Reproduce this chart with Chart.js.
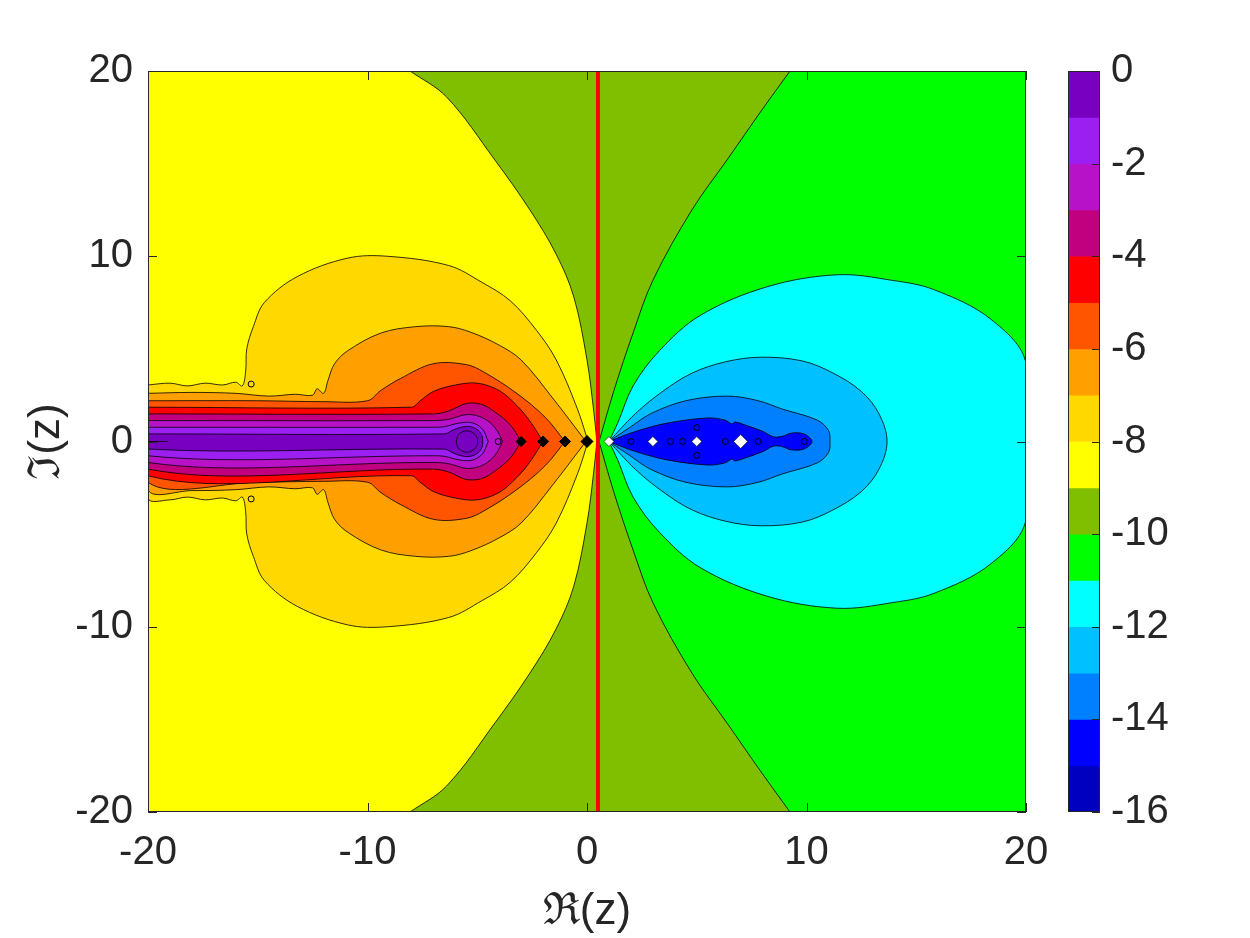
<!DOCTYPE html>
<html>
<head>
<meta charset="utf-8">
<script src="https://cdn.jsdelivr.net/npm/chart.js@4.4.1/dist/chart.umd.min.js"></script>
<style>
  html, body { margin: 0; padding: 0; background: #fff; }
  #wrap { position: relative; width: 1250px; height: 938px; }
  canvas { position: absolute; left: 0; top: 0; }
</style>
</head>
<body>
<div id="wrap">
  <canvas id="mapa" width="1250" height="938"></canvas>
  <canvas id="barra" width="1250" height="938"></canvas>
</div>
<script>
// niveles del colorbar y sus colores (de 0 hacia -16)
const niveles = [0, -1, -2, -3, -4, -5, -6, -7, -8, -9, -10, -11, -12, -13, -14, -15, -16];
const colores = ['#7800C0', '#9B1FF0', '#B812C8', '#C0007E', '#FF0000', '#FF5500', '#FFA000', '#FFD800',
                 '#FFFF00', '#80BF00', '#00FF00', '#00FFFF', '#00C0FF', '#0080FF', '#0000FF', '#0000C0'];
const ticksEje = [-20, -10, 0, 10, 20];
const ticksBarra = [0, -2, -4, -6, -8, -10, -12, -14, -16];

// contornos, mitad superior (y >= 0)
const c9 = [[-8.06, 20], [-6.4, 18.6], [-4.2, 15.2], [-2.6, 12.5], [-1.4, 10.1], [-0.6, 7.8], [0.0, 4.4], [0.3, 1.7], [0.45, 0]];
const c10 = [[9.25, 20], [7.97, 17.9], [6.38, 15.2], [4.78, 12.5], [3.01, 8.72], [2.1, 5.86], [1.23, 2.76], [0.55, 0]];
const c8 = [[-20, 3.05], [-19, 3.15], [-18.2, 3.0], [-17.4, 3.15], [-16.6, 3.05], [-16.0, 3.2], [-15.7, 3.0], [-15.55, 3.8],
            [-15.5, 5.0], [-15.2, 6.2], [-14.7, 7.5], [-13.2, 8.9], [-10.9, 9.9], [-9.1, 10.0], [-6.3, 9.5], [-4.8, 8.6],
            [-3.5, 7.6], [-2.3, 6.0], [-1.4, 4.4], [-0.45, 1.8], [0.05, 0]];
const c7 = [[-20, 2.6], [-18, 2.65], [-16, 2.6], [-14.5, 2.45], [-13.3, 2.55], [-12.5, 2.5], [-12.3, 2.85], [-12.0, 2.6],
            [-11.8, 3.3], [-11.5, 4.2], [-10.9, 4.9], [-9.4, 5.85], [-7.8, 6.2], [-6.3, 6.2], [-5.3, 5.9], [-4.0, 5.2],
            [-3.0, 4.4], [-1.6, 2.4], [-0.05, 0]];
const c6 = [[-20, 2.2], [-15, 2.2], [-12, 2.15], [-10, 2.2], [-9.4, 2.75], [-8.5, 3.4], [-7.0, 4.2], [-5.5, 4.15],
            [-4.7, 3.75], [-3.2, 2.6], [-1.9, 1.3], [-1.0, 0]];
const c5 = [[-20, 1.85], [-8, 1.85], [-7.6, 2.2], [-7.0, 2.7], [-6.0, 3.05], [-5.0, 3.15], [-4.0, 2.75], [-3.2, 1.95],
            [-2.6, 1.1], [-2.0, 0]];
const c4 = [[-20, 1.49], [-7, 1.49], [-6.3, 1.65], [-5.5, 2.05], [-4.8, 2.0], [-4.2, 1.6], [-3.5, 0.9], [-3.0, 0]];
const c3 = [[-20, 1.13], [-7, 1.13], [-6.3, 1.2], [-5.5, 1.45], [-4.9, 1.35], [-4.4, 1.0], [-4.05, 0.5], [-3.85, 0]];
const c2 = [[-20, 0.77], [-7, 0.77], [-6.5, 0.8], [-5.8, 1.0], [-5.2, 1.0], [-4.75, 0.65], [-4.5, 0]];
const c1 = [[-20, 0.41], [-6.5, 0.41], [-6.1, 0.62], [-5.7, 0.78], [-5.3, 0.8], [-4.95, 0.6], [-4.78, 0.3], [-4.75, 0]];
const c0 = [[-5.96, 0], [-5.85, 0.38], [-5.47, 0.58], [-5.1, 0.38], [-4.98, 0]];
const c11 = [[1.0, 0], [1.4, 1.0], [2.1, 3.0], [3.3, 4.9], [5.15, 6.8], [8.2, 8.35], [11.4, 9.0], [13.9, 8.7], [15.8, 8.2],
             [18.4, 6.6], [20, 4.2]];
const c12 = [[1.0, 0], [2.2, 1.5], [3.5, 2.75], [4.8, 3.7], [6.3, 4.3], [7.9, 4.55], [9.8, 4.35], [11.2, 3.7], [12.5, 2.7],
             [13.3, 1.5], [13.67, 0]];
const c13 = [[1.0, 0], [2.0, 0.8], [2.9, 1.5], [4.5, 2.2], [6.4, 2.45], [7.8, 2.2], [8.9, 1.75], [10.5, 1.15], [11.0, 0.6], [11.07, 0]];
const c14 = [[1.0, 0], [2.1, 0.5], [3.6, 0.98], [5.5, 1.27], [6.3, 1.15], [6.6, 0.95], [6.75, 1.05], [7.3, 0.85], [8.0, 0.55],
             [8.5, 0.25], [8.9, 0.28], [9.3, 0.45], [9.9, 0.4], [10.25, 0]];
const esquinasDer = [[20, -20], [20, 20]];

// puntos singulares
const polosX = [-3, -2, -1, 0];
const polosR = [5, 5.5, 5.5, 6];
const cerosX = [1, 3, 5, 7];
const cerosR = [5, 5, 5, 7];
const lazos = [[-4.05, 0], [2.0, 0], [3.8, 0], [4.35, 0], [5, 0.75], [5, -0.75], [6.3, 0], [7.8, 0], [9.9, 0], [-15.3, 3.1], [-15.3, -3.1]];
const lineaRoja = [[0.5, -20], [0.5, 20]];
const trazoBorde = [[-20, 0], [-19.1, 0]];

// mitad superior + reflejo; completo=true repite el ultimo punto (punta aguda)
function reflejo(mitad, completo) {
  const base = completo ? mitad.slice() : mitad.slice(0, -1);
  return mitad.concat(base.reverse().map(([x, y]) => [x, -y]));
}
// curva que llega al marco: se repite el extremo para que la esquina quede aguda
const alMarco = pts => pts.concat([pts[pts.length - 1]], esquinasDer, [pts[0]]);
const cerrar = pts => pts.concat([pts[0]]);
const aXY = pts => pts.map(([x, y]) => ({ x, y }));

function capa(pts, color, borde = true) {
  return { data: aXY(cerrar(pts)), relleno: color, showLine: borde, borderColor: borde ? '#000' : 'transparent',
           borderWidth: 0.8, pointRadius: 0, tension: borde ? 0.35 : 0 };
}

const fuente = { family: 'Liberation Sans, Arial, sans-serif', size: 40 };
const fuenteTitulo = { family: 'Liberation Sans, DejaVu Serif, serif', size: 44 };
const gris = '#262626';

// relleno de poligonos con el mismo trazo que calcula Chart.js
const rellenoPlugin = {
  id: 'relleno',
  beforeDatasetDraw(chart, args) {
    const ds = chart.data.datasets[args.index];
    if (!ds.relleno) return;
    const ctx = chart.ctx, a = chart.chartArea, meta = args.meta;
    ctx.save();
    ctx.beginPath();
    ctx.rect(a.left, a.top, a.width, a.height);
    ctx.clip();
    ctx.beginPath();
    if (ds.showLine && meta.dataset && typeof meta.dataset.path === 'function') {
      meta.dataset.path(ctx);
    } else {
      meta.data.forEach((p, i) => i ? ctx.lineTo(p.x, p.y) : ctx.moveTo(p.x, p.y));
    }
    ctx.closePath();
    ctx.fillStyle = ds.relleno;
    ctx.fill();
    ctx.restore();
  }
};

// marco y marcas hacia dentro
const marcoPlugin = {
  id: 'marco',
  afterDraw(chart) {
    const ctx = chart.ctx, a = chart.chartArea, sx = chart.scales.x, sy = chart.scales.y;
    ctx.save();
    ctx.strokeStyle = gris;
    ctx.lineWidth = 1;
    ctx.strokeRect(a.left + 0.5, a.top + 0.5, a.width - 1, a.height - 1);
    ctx.beginPath();
    ticksEje.forEach(v => {
      const px = Math.round(sx.getPixelForValue(v)) + 0.5;
      ctx.moveTo(px, a.bottom); ctx.lineTo(px, a.bottom - 9);
      ctx.moveTo(px, a.top); ctx.lineTo(px, a.top + 9);
      const py = Math.round(sy.getPixelForValue(v)) + 0.5;
      ctx.moveTo(a.left, py); ctx.lineTo(a.left + 9, py);
      ctx.moveTo(a.right, py); ctx.lineTo(a.right - 9, py);
    });
    ctx.stroke();
    ctx.restore();
  }
};

const capas = [
  capa([[-20, -20], [20, -20], [20, 20], [-20, 20]], colores[8], false),
  capa(alMarco(reflejo(c9, true)), colores[9]),
  capa(alMarco(reflejo(c10, true)), colores[10]),
  capa(reflejo(c11, true), colores[11]),
  capa(reflejo(c12, false), colores[12]),
  capa(reflejo(c13, false), colores[13]),
  capa(reflejo(c14, false), colores[14]),
  capa(reflejo(c8, true), colores[7]),
  capa(reflejo(c7, true), colores[6]),
  capa(reflejo(c6, true), colores[5]),
  capa(reflejo(c5, true), colores[4]),
  capa(reflejo(c4, true), colores[3]),
  capa(reflejo(c3, true), colores[2]),
  capa(reflejo(c2, true), colores[1]),
  capa(reflejo(c1, true), colores[0]),
  capa(reflejo(c0, false), colores[0]),
  { data: aXY(trazoBorde), showLine: true, borderColor: '#000', borderWidth: 0.8, pointRadius: 0 },
  { data: aXY(lineaRoja), showLine: true, borderColor: '#FF0000', borderWidth: 4, pointRadius: 0 },
  { data: aXY(lazos), showLine: false, pointRadius: 3, pointStyle: 'circle', backgroundColor: 'transparent',
    borderColor: '#000', borderWidth: 1 },
  { data: polosX.map(x => ({ x, y: 0 })), showLine: false, pointRadius: polosR, pointStyle: 'rectRot',
    backgroundColor: '#000', borderColor: '#000', borderWidth: 1 },
  { data: cerosX.map(x => ({ x, y: 0 })), showLine: false, pointRadius: cerosR, pointStyle: 'rectRot',
    backgroundColor: '#fff', borderColor: '#000', borderWidth: 0.6 }
];
capas.forEach((d, i) => { d.order = -i; });

new Chart(document.getElementById('mapa'), {
  type: 'scatter',
  data: { datasets: capas },
  options: {
    responsive: false, animation: false, devicePixelRatio: 1, events: [],
    layout: { padding: { left: 0, right: 224, top: 71, bottom: 0 } },
    plugins: { legend: { display: false }, tooltip: { enabled: false } },
    scales: {
      x: {
        type: 'linear', min: -20, max: 20,
        ticks: { stepSize: 10, font: fuente, color: gris, padding: 17, maxRotation: 0 },
        grid: { display: false, drawTicks: false }, border: { display: false },
        title: { display: true, text: 'ℜ(z)', font: fuenteTitulo, color: gris, padding: { top: 0, bottom: 0 } },
        afterFit: s => { s.height = 126; s.paddingLeft = 0; s.paddingRight = 0; }
      },
      y: {
        type: 'linear', min: -20, max: 20,
        ticks: { stepSize: 10, font: fuente, color: gris, padding: 15 },
        grid: { display: false, drawTicks: false }, border: { display: false },
        title: { display: true, text: 'ℑ(z)', font: fuenteTitulo, color: gris, padding: { top: 20, bottom: 0 } },
        afterFit: s => { s.width = 148; s.paddingTop = 0; s.paddingBottom = 0; }
      }
    }
  },
  plugins: [rellenoPlugin, marcoPlugin]
});

// colorbar
const marcoBarra = {
  id: 'marcoBarra',
  afterDraw(chart) {
    const ctx = chart.ctx, a = chart.chartArea, sy = chart.scales.y;
    ctx.save();
    ctx.strokeStyle = gris;
    ctx.lineWidth = 1;
    ctx.strokeRect(a.left + 0.5, a.top + 0.5, a.width - 1, a.height - 1);
    ctx.beginPath();
    ticksBarra.forEach(v => {
      const py = Math.round(sy.getPixelForValue(v)) + 0.5;
      ctx.moveTo(a.right, py); ctx.lineTo(a.right - 8, py);
    });
    ctx.stroke();
    ctx.restore();
  }
};

new Chart(document.getElementById('barra'), {
  type: 'bar',
  data: {
    labels: [''],
    datasets: colores.map((c, i) => ({
      data: [[niveles[i + 1], niveles[i]]],
      backgroundColor: c, borderWidth: 0, barPercentage: 1, categoryPercentage: 1
    }))
  },
  options: {
    responsive: false, animation: false, devicePixelRatio: 1, events: [],
    layout: { padding: { left: 1068, right: 40, top: 71, bottom: 126 } },
    plugins: { legend: { display: false }, tooltip: { enabled: false } },
    scales: {
      x: { display: false, stacked: true },
      y: {
        position: 'right', min: -16, max: 0,
        ticks: { stepSize: 2, font: fuente, color: gris, padding: 11 },
        grid: { display: false, drawTicks: false }, border: { display: false },
        afterFit: s => { s.width = 110; s.paddingTop = 0; s.paddingBottom = 0; }
      }
    }
  },
  plugins: [marcoBarra]
});
</script>
</body>
</html>
